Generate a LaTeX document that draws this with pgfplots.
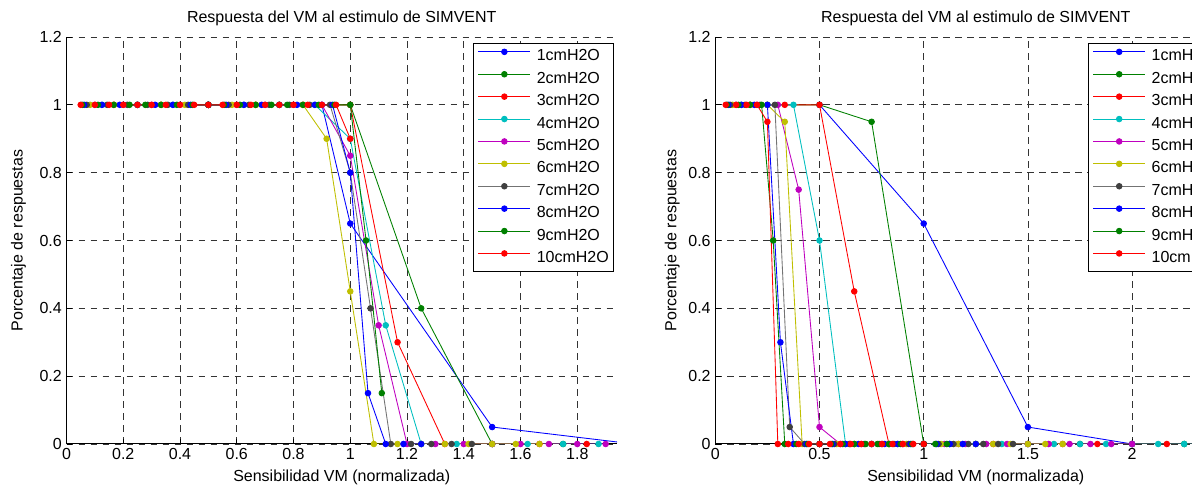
\documentclass[border=0pt]{standalone}
\usepackage{fontspec}
\setmainfont{Liberation Sans}
\usepackage{pgfplots}
\pgfplotsset{compat=1.18}

% MATLAB-like line colours
\definecolor{mb}{rgb}{0,0,1}
\definecolor{mg}{rgb}{0,0.5,0}
\definecolor{mr}{rgb}{1,0,0}
\definecolor{mc}{rgb}{0,0.75,0.75}
\definecolor{mm}{rgb}{0.75,0,0.75}
\definecolor{my}{rgb}{0.75,0.75,0}
\definecolor{mk}{rgb}{0.25,0.25,0.25}

\pgfplotsset{
  mlab/.style={
    scale only axis,
    height=305.25pt,
    ymin=0, ymax=1.2,
    ytick={0,0.2,0.4,0.6,0.8,1,1.2},
    axis x line*=bottom, axis y line*=left,
    axis line style={-, black, line width=0.75pt},
    tick align=inside,
    major tick length=4pt,
    tick style={black, line width=0.6pt},
    grid=major,
    major grid style={black!80, line width=0.55pt, dash pattern=on 5pt off 4pt},
    font=\fontsize{12}{14}\selectfont,
    tick label style={font=\fontsize{12}{14}\selectfont},
    /pgf/number format/assume math mode=true,
    title={Respuesta del VM al estimulo de SIMVENT},
    title style={at={(0.5,1.027)}, anchor=center, font=\fontsize{12}{14}\selectfont},
    xlabel={Sensibilidad VM (normalizada)},
    xlabel style={at={(0.5,-0.081)}, anchor=center},
    ylabel={Porcentaje de respuestas},
    legend cell align=left,
    legend style={anchor=north east, draw=black, line width=0.8pt, fill=white,
      inner xsep=3.5pt, inner ysep=4pt, row sep=5.3pt, column sep=4.5pt,
      font=\fontsize{12}{14}\selectfont,
      nodes={inner sep=0pt, text height=9pt, text depth=2.5pt}},
    legend image code/.code={\draw[mark repeat=2,mark phase=2,#1]
      plot coordinates {(0pt,3.5pt) (19.5pt,3.5pt) (39pt,3.5pt)};},
  },
  ser/.style={color=#1, line width=0.65pt, mark=*, mark size=2.1pt,
    mark options={solid, fill=#1, draw=#1}},
}

\begin{document}
\begin{tikzpicture}

% ---------------- left panel ----------------
\begin{axis}[mlab, at={(49.875pt,33.75pt)}, anchor=south west,
  width=412.875pt, xmin=0, xmax=1.94,
  xtick={0,0.2,0.4,0.6,0.8,1,1.2,1.4,1.6,1.8},
  ylabel style={at={(-0.087,0.5)}, anchor=center},
  legend style={at={(0.9946,0.9853)}}]
\addplot[ser=mb] coordinates {(0.5,1)(0.9,1)(1,0.65)(1.5,0.05)};
\addlegendentry{1cmH2O}
\addplot[ser=mg] coordinates {(0.25,1)(0.5,1)(0.75,1)(1,1)(1.25,0.4)(1.5,0)(1.75,0)};
\addlegendentry{2cmH2O}
\addplot[ser=mr] coordinates {(0.1667,1)(0.3333,1)(0.5,1)(0.6667,1)(0.8333,1)(1,1)(1.1667,0.3)(1.3333,0)(1.5,0)(1.6667,0)(1.8333,0)};
\addlegendentry{3cmH2O}
\addplot[ser=mc] coordinates {(0.125,1)(0.25,1)(0.375,1)(0.5,1)(0.625,1)(0.75,1)(0.875,1)(1,0.9)(1.125,0.35)(1.25,0)(1.375,0)(1.5,0)(1.625,0)(1.75,0)(1.875,0)};
\addlegendentry{4cmH2O}
\addplot[ser=mm] coordinates {(0.1,1)(0.2,1)(0.3,1)(0.4,1)(0.5,1)(0.6,1)(0.7,1)(0.8,1)(0.9,1)(1,0.85)(1.1,0.35)(1.2,0)(1.3,0)(1.4,0)(1.5,0)(1.6,0)(1.7,0)(1.8,0)(1.9,0)};
\addlegendentry{5cmH2O}
\addplot[ser=my] coordinates {(0.0833,1)(0.1667,1)(0.25,1)(0.3333,1)(0.4167,1)(0.5,1)(0.5833,1)(0.6667,1)(0.75,1)(0.8333,1)(0.9167,0.9)(1,0.45)(1.0833,0)(1.1667,0)(1.25,0)(1.3333,0)(1.4167,0)(1.5,0)(1.5833,0)(1.6667,0)};
\addlegendentry{6cmH2O}
\addplot[ser=mk, color=black!55, mark options={fill=mk, draw=mk}] coordinates {(0.0714,1)(0.1429,1)(0.2143,1)(0.2857,1)(0.3571,1)(0.4286,1)(0.5,1)(0.5714,1)(0.6429,1)(0.7143,1)(0.7857,1)(0.8571,1)(0.9286,1)(1,0.8)(1.0714,0.4)(1.1429,0)(1.2143,0)(1.2857,0)(1.3571,0)(1.4286,0)};
\addlegendentry{7cmH2O}
\addplot[ser=mb] coordinates {(0.0625,1)(0.125,1)(0.1875,1)(0.25,1)(0.3125,1)(0.375,1)(0.4375,1)(0.5,1)(0.5625,1)(0.625,1)(0.6875,1)(0.75,1)(0.8125,1)(0.875,1)(0.9375,1)(1,0.8)(1.0625,0.15)(1.125,0)(1.1875,0)(1.25,0)};
\addlegendentry{8cmH2O}
\addplot[ser=mg] coordinates {(0.0556,1)(0.1111,1)(0.1667,1)(0.2222,1)(0.2778,1)(0.3333,1)(0.3889,1)(0.4444,1)(0.5,1)(0.5556,1)(0.6111,1)(0.6667,1)(0.7222,1)(0.7778,1)(0.8333,1)(0.8889,1)(0.9444,1)(1,1)(1.0556,0.6)(1.1111,0.15)};
\addlegendentry{9cmH2O}
\addplot[ser=mr] coordinates {(0.05,1)(0.1,1)(0.15,1)(0.2,1)(0.25,1)(0.3,1)(0.35,1)(0.4,1)(0.45,1)(0.5,1)(0.55,1)(0.6,1)(0.65,1)(0.7,1)(0.75,1)(0.8,1)(0.85,1)(0.9,1)(0.95,1)(1,0.9)};
\addlegendentry{10cmH2O}
% last segment of the 1cmH2O series, running past the right limit
\addplot[mb, line width=0.65pt, no marks, forget plot] coordinates {(1.5,0.05)(2,0)};
\end{axis}

% ---------------- right panel ----------------
\begin{axis}[mlab, at={(536.475pt,33.75pt)}, anchor=south west,
  width=390.75pt, xmin=0, xmax=2.5,
  xtick={0,0.5,1,1.5,2},
  ylabel style={at={(-0.0825,0.5)}, anchor=center},
  legend style={at={(0.9857,0.9853)}}]
\addplot[ser=mb] coordinates {(0.5,1)(1,0.65)(1.5,0.05)(2,0)(2.5,0)(3,0)};
\addlegendentry{1cmH2O}
\addplot[ser=mg] coordinates {(0.25,1)(0.5,1)(0.75,0.95)(1,0)(1.25,0)(1.5,0)(1.75,0)(2,0)(2.25,0)(2.5,0)(2.75,0)};
\addlegendentry{2cmH2O}
\addplot[ser=mr] coordinates {(0.1667,1)(0.3333,1)(0.5,1)(0.6667,0.45)(0.8333,0)(1,0)(1.1667,0)(1.3333,0)(1.5,0)(1.6667,0)(1.8333,0)(2,0)(2.1667,0)(2.3333,0)(2.5,0)(2.6667,0)};
\addlegendentry{3cmH2O}
\addplot[ser=mc] coordinates {(0.125,1)(0.25,1)(0.375,1)(0.5,0.6)(0.625,0)(0.75,0)(0.875,0)(1,0)(1.125,0)(1.25,0)(1.375,0)(1.5,0)(1.625,0)(1.75,0)(1.875,0)(2,0)(2.125,0)(2.25,0)(2.375,0)(2.5,0)};
\addlegendentry{4cmH2O}
\addplot[ser=mm] coordinates {(0.1,1)(0.2,1)(0.3,1)(0.4,0.75)(0.5,0.05)(0.6,0)(0.7,0)(0.8,0)(0.9,0)(1,0)(1.1,0)(1.2,0)(1.3,0)(1.4,0)(1.5,0)(1.6,0)(1.7,0)(1.8,0)(1.9,0)(2,0)};
\addlegendentry{5cmH2O}
\addplot[ser=my] coordinates {(0.0833,1)(0.1667,1)(0.25,1)(0.3333,0.95)(0.4167,0)(0.5,0)(0.5833,0)(0.6667,0)(0.75,0)(0.8333,0)(0.9167,0)(1,0)(1.0833,0)(1.1667,0)(1.25,0)(1.3333,0)(1.4167,0)(1.5,0)(1.5833,0)(1.6667,0)};
\addlegendentry{6cmH2O}
\addplot[ser=mk, color=black!55, mark options={fill=mk, draw=mk}] coordinates {(0.0714,1)(0.1429,1)(0.2143,1)(0.2857,1)(0.3571,0.05)(0.4286,0)(0.5,0)(0.5714,0)(0.6429,0)(0.7143,0)(0.7857,0)(0.8571,0)(0.9286,0)(1,0)(1.0714,0)(1.1429,0)(1.2143,0)(1.2857,0)(1.3571,0)(1.4286,0)};
\addlegendentry{7cmH2O}
\addplot[ser=mb] coordinates {(0.0625,1)(0.125,1)(0.1875,1)(0.25,1)(0.3125,0.3)(0.375,0)(0.4375,0)(0.5,0)(0.5625,0)(0.625,0)(0.6875,0)(0.75,0)(0.8125,0)(0.875,0)(0.9375,0)(1,0)(1.0625,0)(1.125,0)(1.1875,0)(1.25,0)};
\addlegendentry{8cmH2O}
\addplot[ser=mg] coordinates {(0.0556,1)(0.1111,1)(0.1667,1)(0.2222,1)(0.2778,0.6)(0.3333,0)(0.3889,0)(0.4444,0)(0.5,0)(0.5556,0)(0.6111,0)(0.6667,0)(0.7222,0)(0.7778,0)(0.8333,0)(0.8889,0)(0.9444,0)(1,0)(1.0556,0)(1.1111,0)};
\addlegendentry{9cmH2O}
\addplot[ser=mr] coordinates {(0.05,1)(0.1,1)(0.15,1)(0.2,1)(0.25,0.95)(0.3,0)(0.35,0)(0.4,0)(0.45,0)(0.5,0)(0.55,0)(0.6,0)(0.65,0)(0.7,0)(0.75,0)(0.8,0)(0.85,0)(0.9,0)(0.95,0)(1,0)};
\addlegendentry{10cmH2O}
\end{axis}

% the reference is cut at its right edge
\pgfresetboundingbox
\path[use as bounding box] (0pt,0pt) rectangle (894pt,366.75pt);
\end{tikzpicture}
\end{document}
